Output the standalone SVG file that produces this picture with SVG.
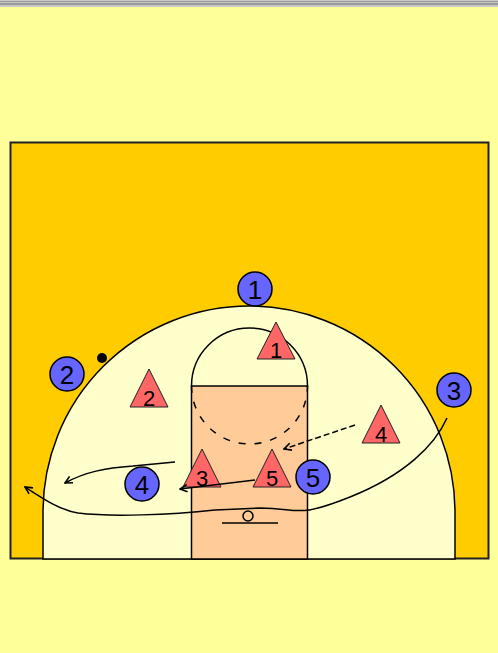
<svg xmlns="http://www.w3.org/2000/svg" width="498" height="653" viewBox="0 0 498 653">
<style>
.off{fill:#6666FF;stroke:#000;stroke-width:1.5}
.def{fill:#FF6666;stroke:#222;stroke-width:1}
.lbl{font-family:"Liberation Sans",Arial,sans-serif;fill:#000;text-anchor:middle}
.cl{font-size:26px}
.tl{font-size:22px}
.ln{fill:none;stroke:#000;stroke-width:1.5}
</style>
<defs>
<marker id="ah" viewBox="0 0 10 10" refX="9" refY="5" markerWidth="9" markerHeight="9" markerUnits="userSpaceOnUse" orient="auto">
<path d="M1,1 L9,5 L1,9" fill="none" stroke="#000" stroke-width="1.8"/>
</marker>
</defs>
<rect x="0" y="0" width="498" height="653" fill="#FFFF99"/>
<rect x="0" y="0" width="498" height="7" fill="#c8c8c8"/>
<rect x="0" y="1" width="498" height="1" fill="#999"/>
<rect x="0" y="3" width="498" height="2" fill="#9a9a9a"/>
<g id="court">
<rect x="10.5" y="142.5" width="478" height="416" fill="#FFCC00" stroke="#222" stroke-width="2"/>
<path d="M43,559 L43,512 A206,206 0 0 1 455,512 L455,559 Z" fill="#FFFFCC" stroke="#000" stroke-width="1.5"/>
<rect x="191.5" y="386" width="116" height="173" fill="#FFCC99" stroke="#000" stroke-width="1.5"/>
<path d="M191.5,386 A58,58 0 0 1 307.5,386" fill="none" stroke="#000" stroke-width="1.5"/>
<path d="M191.5,386 A58,58 0 0 0 307.5,386" fill="none" stroke="#000" stroke-width="1.5" stroke-dasharray="7 9"/>
<circle cx="248" cy="516" r="5" fill="none" stroke="#000" stroke-width="1.5"/>
<line x1="222" y1="523" x2="278" y2="523" stroke="#000" stroke-width="1.5"/>
</g>
<g id="ball"><circle cx="102" cy="358" r="5" fill="#000"/></g>
<g id="d1"><polygon class="def" points="276,322 257,359 295,359"/><text class="lbl tl" x="276" y="358">1</text></g>
<g id="d2"><polygon class="def" points="149,369 130,407 168,407"/><text class="lbl tl" x="149" y="406">2</text></g>
<g id="d3"><polygon class="def" points="202,449 183,487 221,487"/><text class="lbl tl" x="202" y="486">3</text></g>
<g id="d4"><polygon class="def" points="381,405 362,443 400,443"/><text class="lbl tl" x="381" y="442">4</text></g>
<g id="d5"><polygon class="def" points="272,449 253,487 291,487"/><text class="lbl tl" x="272" y="486">5</text></g>
<g id="o1"><circle class="off" cx="255" cy="289" r="17"/><text class="lbl cl" x="255" y="298.5">1</text></g>
<g id="o2"><circle class="off" cx="67" cy="374" r="17"/><text class="lbl cl" x="67" y="383.5">2</text></g>
<g id="o3"><circle class="off" cx="454" cy="390" r="17"/><text class="lbl cl" x="454" y="399.5">3</text></g>
<g id="o4"><circle class="off" cx="142" cy="484" r="17"/><text class="lbl cl" x="142" y="493.5">4</text></g>
<g id="o5"><circle class="off" cx="313" cy="477" r="17"/><text class="lbl cl" x="313" y="486.5">5</text></g>
<g id="connectors">
<path class="ln" marker-end="url(#ah)" d="M447,418 C435,445 405,475 350,497 S300,508 260,508 L215,510 C170,515 110,517 78,513 C60,510 45,500 25,487"/>
<path class="ln" marker-end="url(#ah)" d="M175,462 L133,466 C105,468 85,472 65,483"/>
<path class="ln" marker-end="url(#ah)" stroke-dasharray="6 3" d="M355,425 L284,449"/>
<path class="ln" marker-end="url(#ah)" d="M255,480 L180,489"/>
</g>
</svg>
